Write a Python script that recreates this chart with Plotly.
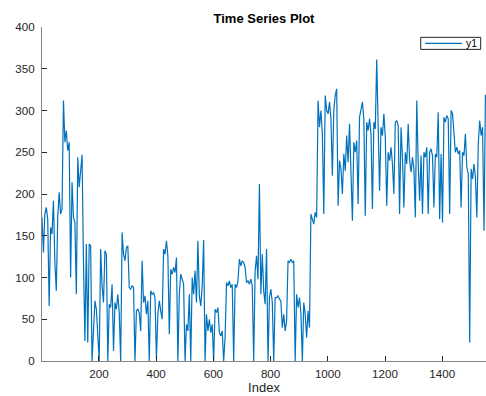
import numpy as np
import plotly.graph_objects as go

# Samples of the y1 series, one value every STEP index positions starting at 1
STEP = 5

# Index 1-496: early regime, mostly 0-150 with a burst near 300 around index 75
y1_start = [
    172, 130, 176, 184, 170, 66, 160, 152, 192, 118,
    84, 172, 202, 176, 182, 312, 262, 276, 252, 262,
    100, 214, 172, 166, 80, 244, 208, 228, 247, 118,
    24, 140, 22, 140, 138, 0, 40, 72, 62, 36,
    0, 134, 90, 70, 132, 128, 0, 68, 64, 92,
    12, 70, 62, 80, 58, 0, 154, 128, 120, 136,
    138, 88, 86, 90, 88, 0, 60, 62, 58, 36,
    120, 70, 78, 56, 72, 0, 84, 80, 82, 76,
    2, 56, 72, 60, 50, 134, 128, 144, 126, 32,
    110, 104, 112, 106, 124, 0, 80, 104, 96, 92,
]

# Index 501-946: low regime with frequent drops to zero
y1_middle = [
    0, 44, 36, 80, 0, 100, 80, 108, 70, 144,
    78, 66, 90, 145, 0, 56, 36, 50, 34, 44,
    0, 62, 58, 64, 34, 30, 36, 0, 28, 94,
    90, 96, 88, 92, 0, 92, 88, 96, 122, 114,
    120, 118, 112, 94, 96, 92, 98, 90, 0, 108,
    126, 98, 212, 80, 128, 84, 68, 134, 0, 76,
    86, 70, 0, 76, 76, 78, 74, 72, 40, 56,
    36, 48, 120, 118, 122, 118, 120, 0, 80, 64,
    76, 58, 0, 70, 56, 28, 60, 40, 176, 170,
]

# Index 951-1551: high regime around 250-300 with downward spikes
y1_end = [
    164, 178, 172, 312, 280, 300, 272, 176, 318, 300,
    296, 310, 290, 222, 300, 318, 326, 186, 240, 230,
    200, 248, 228, 270, 238, 284, 222, 168, 262, 250,
    264, 188, 292, 300, 310, 290, 174, 286, 276, 290,
    272, 182, 286, 278, 361, 282, 204, 280, 270, 296,
    268, 186, 250, 240, 256, 236, 200, 286, 288, 282,
    176, 280, 244, 184, 250, 236, 284, 240, 226, 244,
    230, 172, 312, 236, 192, 246, 176, 250, 244, 256,
    176, 250, 254, 246, 184, 248, 244, 298, 170, 248,
    166, 292, 286, 294, 290, 176, 300, 296, 270, 250,
    256, 248, 252, 184, 250, 246, 272, 232, 224, 22,
    230, 218, 236, 220, 172, 260, 288, 270, 280, 156, 319,
]

y1 = np.array(y1_start + y1_middle + y1_end, dtype=float)
index = 1 + STEP * np.arange(len(y1))

x_ticks = [200, 400, 600, 800, 1000, 1200, 1400]
y_ticks = [0, 50, 100, 150, 200, 250, 300, 350, 400]
series_name = "y1"

LINE_BLUE = "#0072BD"
TEXT = "#262626"
AXIS = "#858585"

fig = go.Figure()
fig.add_trace(go.Scatter(
    x=index, y=y1, mode="lines", name=series_name,
    line=dict(color=LINE_BLUE, width=1.2),
    showlegend=False,
))

# Compact boxed legend in the upper-right corner of the axes
legend_box = dict(x0=0.853, x1=0.988, y0=0.933, y1=0.969)
legend_mid = (legend_box["y0"] + legend_box["y1"]) / 2
fig.add_shape(type="rect", xref="paper", yref="paper", **legend_box,
              line=dict(color=TEXT, width=1), fillcolor="white", layer="above")
fig.add_shape(type="line", xref="paper", yref="paper",
              x0=0.863, x1=0.946, y0=legend_mid, y1=legend_mid,
              line=dict(color=LINE_BLUE, width=1.2), layer="above")
fig.add_annotation(text=series_name, xref="paper", yref="paper",
                   x=0.951, y=legend_mid, xanchor="left", yanchor="middle",
                   showarrow=False, font=dict(size=10.5, color="#000000"))

fig.update_layout(
    width=486, height=396,
    margin=dict(l=42, r=0, t=27, b=35),
    paper_bgcolor="white", plot_bgcolor="white",
    font=dict(family="Liberation Sans, Arial, sans-serif", size=11.6, color=TEXT),
    title=dict(
        text="<b>Time Series Plot</b>",
        font=dict(size=13, color="#000000"),
        x=0.5, xref="paper", xanchor="center",
        y=1 - 18 / 396, yref="container", yanchor="middle",
    ),
    showlegend=False,
)

fig.update_xaxes(
    range=[1, 1553], tickvals=x_ticks, ticktext=[str(v) for v in x_ticks],
    showgrid=False, zeroline=False,
    showline=True, linecolor=AXIS, linewidth=1,
    ticks="inside", ticklen=5, tickcolor=TEXT, tickwidth=1,
    title=dict(text="Index", font=dict(size=13, color=TEXT), standoff=1),
    ticklabelstandoff=2,
)
fig.update_yaxes(
    range=[0, 400], tickvals=y_ticks, ticktext=[str(v) for v in y_ticks],
    showgrid=False, zeroline=False,
    showline=True, linecolor=AXIS, linewidth=1,
    ticks="inside", ticklen=5, tickcolor=TEXT, tickwidth=1,
    ticklabelstandoff=4,
)

fig.write_html("out.html")
